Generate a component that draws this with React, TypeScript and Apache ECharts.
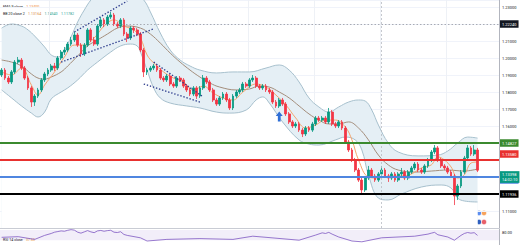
import React, { useEffect, useRef } from "react";
import * as echarts from "echarts";

const FONT = "Roboto, 'Liberation Sans', sans-serif";

// [open, close, low, high]
const candles: number[][] = [
  [1.19, 1.1929, 1.1888, 1.1941], [1.1929, 1.1882, 1.1871, 1.1941], [1.1882, 1.1859, 1.1847, 1.1894], [1.1859, 1.1918, 1.1847, 1.1929], [1.1918, 1.1976, 1.1906, 1.1988],
  [1.1976, 1.1988, 1.1965, 1.2006], [1.1988, 1.1941, 1.1929, 1.2], [1.1941, 1.1882, 1.1871, 1.1953], [1.1882, 1.1824, 1.1812, 1.1894], [1.1824, 1.1741, 1.1712, 1.1835],
  [1.1741, 1.1776, 1.1718, 1.1788], [1.1776, 1.1812, 1.1765, 1.1824], [1.1812, 1.1871, 1.18, 1.1882], [1.1871, 1.1906, 1.1859, 1.1918], [1.1906, 1.1929, 1.1894, 1.1941],
  [1.1929, 1.1953, 1.1918, 1.1965], [1.1953, 1.1941, 1.1924, 1.1971], [1.1941, 1.2, 1.1929, 1.2012], [1.2, 1.2035, 1.1988, 1.2047], [1.2035, 1.2047, 1.2018, 1.2065],
  [1.2047, 1.2082, 1.2035, 1.2094], [1.2082, 1.2106, 1.2071, 1.2124], [1.2106, 1.2135, 1.2094, 1.2153], [1.2135, 1.2076, 1.2065, 1.2147], [1.2076, 1.2024, 1.2006, 1.2088],
  [1.2024, 1.2076, 1.2012, 1.2088], [1.2076, 1.2165, 1.2065, 1.2176], [1.2165, 1.2106, 1.2094, 1.2176], [1.2106, 1.2082, 1.2071, 1.2124], [1.2082, 1.2188, 1.2071, 1.22],
  [1.2188, 1.2224, 1.2176, 1.2241], [1.2224, 1.22, 1.2182, 1.2235], [1.22, 1.2241, 1.2188, 1.2253], [1.2241, 1.2253, 1.2229, 1.2271], [1.2253, 1.22, 1.2188, 1.2265],
  [1.22, 1.2188, 1.2176, 1.2212], [1.2188, 1.2224, 1.2176, 1.2235], [1.2224, 1.2141, 1.2129, 1.2235], [1.2141, 1.2118, 1.2094, 1.2153], [1.2118, 1.2176, 1.2106, 1.2188],
  [1.2176, 1.2165, 1.2147, 1.2188], [1.2165, 1.2141, 1.2129, 1.2176], [1.2141, 1.2047, 1.2035, 1.2153], [1.2047, 1.1918, 1.1888, 1.2059], [1.1918, 1.1929, 1.19, 1.1941],
  [1.1929, 1.1941, 1.1918, 1.1953], [1.1941, 1.1953, 1.1929, 1.1965], [1.1953, 1.1929, 1.1918, 1.1965], [1.1929, 1.1882, 1.1871, 1.1941], [1.1882, 1.1871, 1.1859, 1.1894],
  [1.1871, 1.1894, 1.1859, 1.1906], [1.1894, 1.1847, 1.1835, 1.1906], [1.1847, 1.1835, 1.1824, 1.1859], [1.1835, 1.1882, 1.1824, 1.1894], [1.1882, 1.1871, 1.1859, 1.1894],
  [1.1871, 1.1835, 1.1824, 1.1882], [1.1835, 1.1812, 1.18, 1.1847], [1.1812, 1.1788, 1.1776, 1.1824], [1.1788, 1.1824, 1.1776, 1.1835], [1.1824, 1.1776, 1.1759, 1.1835],
  [1.1776, 1.1824, 1.1765, 1.1835], [1.1824, 1.1882, 1.1812, 1.19], [1.1882, 1.1859, 1.1847, 1.1894], [1.1859, 1.1812, 1.18, 1.1871], [1.1812, 1.1753, 1.1741, 1.1824],
  [1.1753, 1.1729, 1.1718, 1.1765], [1.1729, 1.1765, 1.1718, 1.1776], [1.1765, 1.1788, 1.1753, 1.18], [1.1788, 1.1753, 1.1741, 1.18], [1.1753, 1.1706, 1.1694, 1.1765],
  [1.1706, 1.1776, 1.1694, 1.1788], [1.1776, 1.18, 1.1765, 1.1812], [1.18, 1.1812, 1.1788, 1.1824], [1.1812, 1.1847, 1.18, 1.1859], [1.1847, 1.1835, 1.1824, 1.1859],
  [1.1835, 1.1871, 1.1824, 1.1882], [1.1871, 1.1882, 1.1859, 1.19], [1.1882, 1.1835, 1.1824, 1.1894], [1.1835, 1.1824, 1.1812, 1.1847], [1.1824, 1.1835, 1.1812, 1.1847],
  [1.1835, 1.1812, 1.18, 1.1847], [1.1812, 1.18, 1.1788, 1.1824], [1.18, 1.1741, 1.1729, 1.1812], [1.1741, 1.1718, 1.1706, 1.1753], [1.1718, 1.1753, 1.1706, 1.1765],
  [1.1753, 1.1729, 1.1718, 1.1765], [1.1729, 1.1671, 1.1659, 1.1741], [1.1671, 1.1624, 1.1612, 1.1682], [1.1624, 1.16, 1.1588, 1.1635], [1.16, 1.1612, 1.1588, 1.1624],
  [1.1612, 1.1576, 1.1565, 1.1624], [1.1576, 1.1553, 1.1535, 1.1588], [1.1553, 1.1588, 1.1541, 1.16], [1.1588, 1.1576, 1.1565, 1.16], [1.1576, 1.1612, 1.1565, 1.1624],
  [1.1612, 1.1647, 1.16, 1.1659], [1.1647, 1.1635, 1.1624, 1.1659], [1.1635, 1.1647, 1.1624, 1.1659], [1.1647, 1.1624, 1.1612, 1.1659], [1.1624, 1.1682, 1.1612, 1.1706],
  [1.1682, 1.1612, 1.16, 1.1694], [1.1612, 1.16, 1.1588, 1.1624], [1.16, 1.1624, 1.1588, 1.1635], [1.1624, 1.1588, 1.1576, 1.1635], [1.1588, 1.1506, 1.1494, 1.16],
  [1.1506, 1.1459, 1.1447, 1.1518], [1.1459, 1.14, 1.1388, 1.1471], [1.14, 1.1341, 1.1329, 1.1412], [1.1341, 1.1282, 1.1271, 1.1353], [1.1282, 1.1224, 1.1194, 1.1294],
  [1.1224, 1.1294, 1.1212, 1.1306], [1.1294, 1.1341, 1.1282, 1.1365], [1.1341, 1.1306, 1.1294, 1.1353], [1.1306, 1.1282, 1.1271, 1.1318], [1.1282, 1.1318, 1.1271, 1.1329],
  [1.1318, 1.1341, 1.1306, 1.1365], [1.1341, 1.1306, 1.1294, 1.1353], [1.1306, 1.1294, 1.1271, 1.1318], [1.1294, 1.1318, 1.1282, 1.1329], [1.1318, 1.1282, 1.1271, 1.1329],
  [1.1282, 1.1318, 1.1271, 1.1329], [1.1318, 1.1329, 1.1306, 1.1353], [1.1329, 1.1294, 1.1282, 1.1341], [1.1294, 1.1329, 1.1282, 1.1341], [1.1329, 1.1353, 1.1318, 1.1365],
  [1.1353, 1.1376, 1.1341, 1.1388], [1.1376, 1.1341, 1.1329, 1.1388], [1.1341, 1.1329, 1.1318, 1.1353], [1.1329, 1.1365, 1.1318, 1.1376], [1.1365, 1.14, 1.1353, 1.1412],
  [1.14, 1.1447, 1.1388, 1.1459], [1.1447, 1.1471, 1.1435, 1.1488], [1.1471, 1.14, 1.1388, 1.1482], [1.14, 1.1365, 1.1353, 1.1412], [1.1365, 1.1353, 1.1341, 1.1376],
  [1.1353, 1.1329, 1.1318, 1.1365], [1.1329, 1.1306, 1.1294, 1.1341], [1.1306, 1.1188, 1.1135, 1.1318], [1.1188, 1.1247, 1.1165, 1.1259], [1.1247, 1.1329, 1.1235, 1.1341],
  [1.1329, 1.1412, 1.1318, 1.1424], [1.1412, 1.1471, 1.14, 1.1488], [1.1471, 1.1435, 1.1424, 1.1482], [1.1435, 1.1459, 1.1424, 1.1488], [1.1459, 1.134, 1.1329, 1.1471],
];

const bbUpper: number[][] = [
  [0, 1.2176], [3, 1.22], [6, 1.2188], [8, 1.2165], [10, 1.2129], [13, 1.2065], [15, 1.2018], [17, 1.2006], [19, 1.2047], [21, 1.2124],
  [23, 1.2212], [25, 1.2282], [27, 1.2341], [30, 1.24], [35, 1.2435], [40, 1.2388], [43, 1.2341], [45, 1.2271], [48, 1.2147], [51, 1.2047],
  [54, 1.1988], [57, 1.1953], [60, 1.1929], [65, 1.1912], [70, 1.1918], [75, 1.1918], [80, 1.1941], [84, 1.1959], [87, 1.1929], [90, 1.1859],
  [93, 1.1765], [96, 1.1712], [99, 1.1682], [102, 1.1712], [105, 1.1741], [108, 1.1753], [110, 1.1747], [112, 1.1694], [114, 1.1606], [117, 1.15],
  [120, 1.1447], [126, 1.1424], [132, 1.1429], [135, 1.1453], [138, 1.15], [141, 1.1535], [144, 1.1529],
];

const bbLower: number[][] = [
  [0, 1.1812], [3, 1.1765], [6, 1.1718], [9, 1.1676], [11, 1.1653], [13, 1.1682], [15, 1.1759], [18, 1.18], [20, 1.1824], [23, 1.1871],
  [26, 1.1929], [29, 1.1976], [33, 1.2035], [36, 1.2071], [39, 1.2082], [41, 1.2071], [42, 1.2035], [44, 1.1929], [46, 1.1824], [48, 1.1765],
  [51, 1.1735], [56, 1.1718], [60, 1.1706], [65, 1.1682], [69, 1.1676], [74, 1.1694], [77, 1.1753], [79, 1.1771], [81, 1.1735], [85, 1.1624],
  [90, 1.1518], [93, 1.1494], [96, 1.1488], [101, 1.1518], [104, 1.1535], [107, 1.1518], [109, 1.1459], [111, 1.1312], [114, 1.1176], [117, 1.1165],
  [121, 1.12], [127, 1.1241], [133, 1.1253], [136, 1.1235], [138, 1.1176], [140, 1.1159], [144, 1.1153],
];

const bbMiddle: number[][] = [
  [0, 1.1988], [3, 1.1976], [6, 1.1953], [9, 1.1906], [11, 1.1882], [13, 1.1876], [15, 1.1888], [18, 1.1918], [20, 1.1953], [23, 1.2012],
  [26, 1.2071], [29, 1.2106], [32, 1.2141], [35, 1.2176], [38, 1.2188], [42, 1.2176], [45, 1.2141], [48, 1.2088], [51, 1.2029], [54, 1.1976],
  [57, 1.1929], [60, 1.1888], [63, 1.1853], [66, 1.1829], [71, 1.1812], [75, 1.1818], [78, 1.1835], [81, 1.1829], [84, 1.18], [87, 1.1765],
  [90, 1.1718], [93, 1.1671], [96, 1.1635], [99, 1.1612], [102, 1.1612], [105, 1.1624], [108, 1.1588], [111, 1.1518], [114, 1.1429], [117, 1.1371],
  [120, 1.1341], [125, 1.1329], [130, 1.1335], [135, 1.1341], [140, 1.1335], [144, 1.1347],
];

const ema9: number[][] = [
  [0, 1.1918], [3, 1.19], [6, 1.1941], [9, 1.1841], [11, 1.1782], [13, 1.1841], [16, 1.1918], [19, 1.2006], [22, 1.2076], [25, 1.2076],
  [28, 1.2118], [31, 1.2188], [34, 1.2224], [37, 1.2188], [40, 1.2165], [42, 1.2118], [44, 1.2018], [46, 1.1971], [49, 1.1918], [52, 1.1882],
  [55, 1.1859], [58, 1.1812], [61, 1.1835], [64, 1.1794], [67, 1.1765], [70, 1.1753], [73, 1.18], [77, 1.1847], [80, 1.1829], [83, 1.1782],
  [86, 1.1724], [89, 1.1647], [92, 1.1588], [95, 1.1606], [98, 1.1635], [101, 1.1635], [104, 1.1594], [106, 1.1518], [108, 1.14], [111, 1.13],
  [114, 1.1294], [118, 1.1306], [121, 1.1306], [124, 1.1318], [127, 1.1353], [130, 1.1371], [132, 1.1418], [134, 1.14], [136, 1.1359], [138, 1.1294],
  [140, 1.1312], [142, 1.1382], [144, 1.1388],
];

const rsi14: number[][] = [
  [0, 48], [5, 52], [10, 35], [13, 60], [15, 72], [16, 80], [17, 84], [18, 88], [19, 86], [20, 92], [21, 96], [22, 93], [23, 80], [24, 74],
  [25, 82], [26, 90], [27, 82], [28, 77], [29, 88], [30, 91], [31, 86], [32, 90], [33, 92], [34, 80], [35, 78], [36, 83], [37, 66], [38, 60],
  [42, 45], [44, 25], [50, 35], [60, 40], [70, 35], [76, 55], [80, 48], [90, 30], [95, 62], [97, 76], [98, 72], [99, 79], [100, 68], [102, 50],
  [106, 25], [109, 20], [115, 45], [125, 55], [129, 68], [130, 74], [131, 79], [132, 64], [135, 50], [137, 30], [139, 60], [140, 72],
  [141, 78], [142, 74], [143, 77], [144, 60],
];

// drawn trend channels: [startIndex, startPrice, endIndex, endPrice]
const channels: number[][] = [
  [22, 1.2153, 38, 1.2335],
  [18, 1.1976, 46, 1.2171],
  [46, 1.1976, 61, 1.1771],
  [43, 1.1847, 60, 1.1741],
];

const levelGreen = 1.14827;
const levelRed = 1.1358;
const levelBlue = 1.1284;
const levelBlack = 1.11936;
const lastPrice = 1.13398;
const highLine = 1.2224;
const arrowAt = [84, 1.1656];
const vLineIndex = 115;

const categories = Array.from({ length: 151 }, (_, i) => String(i));
const hiddenTicks = [122, 115, 114, 113, 112, 110];

const box = (text: string, bg: string, extra: any = {}) => ({
  show: true,
  position: "end",
  formatter: text,
  backgroundColor: bg,
  color: "#ffffff",
  fontSize: 4,
  fontFamily: FONT,
  padding: [2, 2, 1.5, 2],
  distance: 1,
  ...extra,
});

export default function App() {
  const ref = useRef<HTMLDivElement>(null);
  useEffect(() => {
    const chart = echarts.init(ref.current!, null, { renderer: "svg" });
    const lineBase = {
      type: "line",
      showSymbol: false,
      symbol: "none",
      silent: true,
      xAxisIndex: 0,
      yAxisIndex: 0,
    };
    const option: any = {
      animation: false,
      backgroundColor: "#ffffff",
      grid: [
        { left: 0, right: 21, top: 0, height: 228 },
        { left: 0, right: 21, top: 229, height: 56 },
      ],
      xAxis: [
        {
          type: "category",
          data: categories,
          gridIndex: 0,
          boundaryGap: true,
          axisLine: { show: true, lineStyle: { color: "#c9ccd4", width: 1 } },
          axisTick: { show: false },
          axisLabel: { show: false },
          splitLine: {
            show: true,
            interval: (i: number) => i % 20 === 15,
            lineStyle: { color: "#eef1f6", width: 1 },
          },
        },
        {
          type: "category",
          data: categories,
          gridIndex: 1,
          boundaryGap: true,
          axisLine: { show: false },
          axisTick: { show: false },
          axisLabel: { show: false },
          splitLine: { show: false },
        },
      ],
      yAxis: [
        {
          type: "value",
          gridIndex: 0,
          position: "right",
          min: 1.1,
          max: 1.23412,
          interval: 0.01,
          axisLine: { show: true, lineStyle: { color: "#b2b5be" } },
          axisTick: { show: false },
          axisLabel: {
            fontSize: 4,
            color: "#131722",
            fontFamily: FONT,
            margin: 3,
            showMaxLabel: false,
            showMinLabel: false,
            formatter: (v: number) => (hiddenTicks.includes(Math.round(v * 100)) ? "" : v.toFixed(5)),
          },
          splitLine: { show: true, lineStyle: { color: "#f0f3fa", width: 1 } },
        },
        {
          type: "value",
          gridIndex: 1,
          position: "right",
          min: 0,
          max: 100,
          interval: 20,
          axisLine: { show: true, lineStyle: { color: "#b2b5be" } },
          axisTick: { show: false },
          axisLabel: {
            fontSize: 4,
            color: "#131722",
            fontFamily: FONT,
            margin: 3,
            showMaxLabel: false,
            formatter: (v: number) => (v === 80 ? "80.00" : ""),
          },
          splitLine: { show: false },
        },
      ],
      series: [
        {
          ...lineBase,
          name: "bbUpper",
          data: bbUpper,
          smooth: 0.4,
          lineStyle: { color: "#a7c0cd", width: 1 },
          areaStyle: { color: "#e5eff5", opacity: 1, origin: "start" },
          z: 1,
        },
        {
          ...lineBase,
          name: "bbLower",
          data: bbLower,
          smooth: 0.4,
          lineStyle: { color: "#a7c0cd", width: 1 },
          areaStyle: { color: "#ffffff", opacity: 1, origin: "start" },
          z: 1,
        },
        {
          ...lineBase,
          name: "bbMiddle",
          data: bbMiddle,
          smooth: 0.4,
          lineStyle: { color: "#a48e7c", width: 1 },
          z: 2,
        },
        {
          ...lineBase,
          name: "ema9",
          data: ema9,
          smooth: 0.4,
          lineStyle: { color: "#f4a56e", width: 1 },
          z: 2,
        },
        {
          type: "candlestick",
          name: "price",
          xAxisIndex: 0,
          yAxisIndex: 0,
          data: candles,
          barWidth: 2.3,
          silent: true,
          z: 3,
          itemStyle: {
            color: "#089981",
            color0: "#f23645",
            borderColor: "#089981",
            borderColor0: "#f23645",
            borderWidth: 0.8,
          },
          markLine: {
            silent: true,
            symbol: ["none", "none"],
            animation: false,
            data: [
              { xAxis: vLineIndex, lineStyle: { color: "#b8bbc3", type: [2, 2], width: 0.8 }, label: { show: false } },
              { yAxis: highLine, lineStyle: { color: "#9598a1", type: [1.5, 2], width: 0.8 }, label: box("1.22240", "#131722") },
              { yAxis: levelGreen, lineStyle: { color: "#3b8a2f", type: "solid", width: 2 }, label: box("1.14827", "#3b8a2f") },
              { yAxis: levelBlack, lineStyle: { color: "#000000", type: "solid", width: 2 }, label: box("1.11936", "#000000") },
              { yAxis: levelBlue, lineStyle: { color: "#4f86e0", type: "solid", width: 2 }, label: box("1.12840", "#4f86e0", { offset: [0, 3] }) },
              { yAxis: lastPrice, lineStyle: { color: "rgba(0,0,0,0)", width: 1 }, label: box("1.13398\n14:02:10", "#089981", { offset: [0, 0], lineHeight: 4.6, padding: [1.5, 2, 1, 2] }) },
              { yAxis: levelRed, lineStyle: { color: "#e8312f", type: "solid", width: 2 }, label: box("1.13580", "#e8312f", { offset: [0, -6] }) },
            ],
          },
          markPoint: {
            silent: true,
            animation: false,
            data: [
              {
                coord: arrowAt,
                symbol: "path://M5 0 L10 5.5 L7 5.5 L7 12 L3 12 L3 5.5 L0 5.5 Z",
                symbolSize: [7, 10],
                itemStyle: { color: "#2f6fd6" },
                label: { show: false },
              },
            ],
          },
        },
        ...channels.map((c, k) => ({
          ...lineBase,
          name: "channel" + k,
          data: [
            [c[0], c[1]],
            [c[2], c[3]],
          ],
          lineStyle: { color: "#2b3a8c", type: [1.4, 1.8], width: 1.3 },
          z: 4,
        })),
        {
          type: "line",
          name: "rsi",
          xAxisIndex: 1,
          yAxisIndex: 1,
          data: rsi14,
          showSymbol: false,
          symbol: "none",
          silent: true,
          lineStyle: { color: "#7e57c2", width: 0.8 },
          markArea: {
            silent: true,
            itemStyle: { color: "rgba(126,87,194,0.1)" },
            data: [[{ yAxis: 94 }, { yAxis: 30 }]],
          },
        },
      ],
      graphic: [
        {
          type: "text",
          left: 3,
          top: 1,
          style: {
            text: "{a|EMA 9 close} {o|1.13400}",
            rich: {
              a: { fontSize: 3.6, fill: "#131722", fontFamily: FONT },
              o: { fontSize: 3.6, fill: "#f08a3c", fontFamily: FONT },
            },
          },
        },
        {
          type: "text",
          left: 3,
          top: 8,
          style: {
            text: "{a|BB 20 close 2} {m|1.13164} {u|1.14540} {l|1.11782}",
            rich: {
              a: { fontSize: 3.6, fill: "#131722", fontFamily: FONT },
              m: { fontSize: 3.6, fill: "#d98a3f", fontFamily: FONT },
              u: { fontSize: 3.6, fill: "#2a9d8f", fontFamily: FONT },
              l: { fontSize: 3.6, fill: "#2a9d8f", fontFamily: FONT },
            },
          },
        },
        {
          type: "text",
          left: 3,
          top: 234,
          style: {
            text: "{a|RSI 14 close} {o|37.60}",
            rich: {
              a: { fontSize: 3.6, fill: "#131722", fontFamily: FONT },
              o: { fontSize: 3.6, fill: "#f0a030", fontFamily: FONT },
            },
          },
        },
        { type: "circle", shape: { cx: 479, cy: 213, r: 2.6 }, style: { fill: "#5b8def", stroke: "#ffffff", lineWidth: 0.5 } },
        { type: "circle", shape: { cx: 484, cy: 213, r: 2.6 }, style: { fill: "#f7a35c", stroke: "#ffffff", lineWidth: 0.5 } },
        { type: "circle", shape: { cx: 479, cy: 222, r: 2.6 }, style: { fill: "#2f5fbf", stroke: "#ffffff", lineWidth: 0.5 } },
        { type: "circle", shape: { cx: 484, cy: 222, r: 2.6 }, style: { fill: "#e8606a", stroke: "#ffffff", lineWidth: 0.5 } },
      ],
    };
    chart.setOption(option);
    return () => chart.dispose();
  }, []);
  return (
    <div
      ref={ref}
      style={{ position: "fixed", left: 0, top: 0, width: 520, height: 245, background: "#ffffff" }}
    />
  );
}
